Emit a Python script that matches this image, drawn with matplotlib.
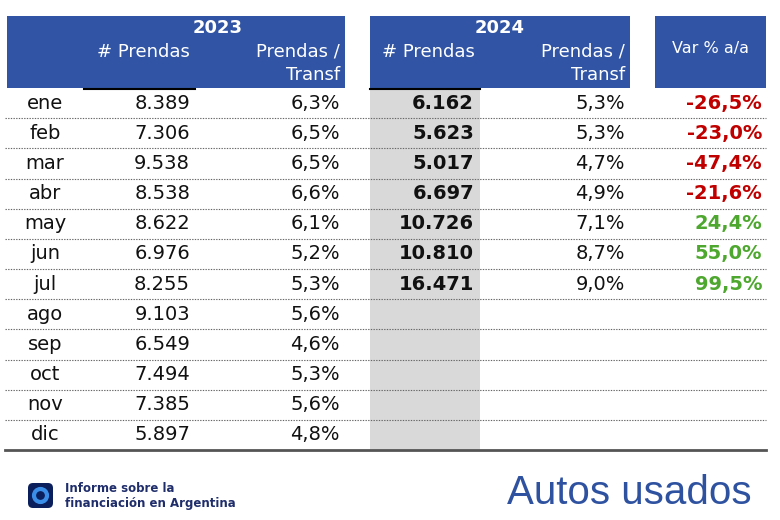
import matplotlib
matplotlib.use('Agg')
import matplotlib.pyplot as plt
from matplotlib.patches import Rectangle, FancyBboxPatch, Circle

# ============ Datos ============
meses = ['ene', 'feb', 'mar', 'abr', 'may', 'jun', 'jul',
         'ago', 'sep', 'oct', 'nov', 'dic']
prendas_2023 = [8389, 7306, 9538, 8538, 8622, 6976, 8255, 9103, 6549, 7494, 7385, 5897]
transf_2023 = [6.3, 6.5, 6.5, 6.6, 6.1, 5.2, 5.3, 5.6, 4.6, 5.3, 5.6, 4.8]
prendas_2024 = [6162, 5623, 5017, 6697, 10726, 10810, 16471]
transf_2024 = [5.3, 5.3, 4.7, 4.9, 7.1, 8.7, 9.0]
var_aa = [-26.5, -23.0, -47.4, -21.6, 24.4, 55.0, 99.5]

AZUL = '#3155A4'
ROJO = '#C00000'
VERDE = '#4EA72E'
GRIS = '#D9D9D9'


def miles(v):
    return f'{v:,}'.replace(',', '.')


def pct(v):
    return f'{v:.1f}%'.replace('.', ',')


fig = plt.figure(figsize=(7.8, 5.2), dpi=100)
ax = fig.add_axes([0, 0, 1, 1])
ax.set_xlim(0, 780)
ax.set_ylim(520, 0)
ax.axis('off')

# ============ Encabezados ============
top, bot = 16, 88
for x0, x1 in [(7, 345), (370, 630), (655, 766)]:
    ax.add_patch(Rectangle((x0, top), x1 - x0, bot - top, color=AZUL, lw=0))

hkw = dict(color='white', fontsize=13, family='DejaVu Sans')
ax.text(218, 28, '2023', ha='center', va='center', fontweight='bold', **hkw)
ax.text(143, 52, '# Prendas', ha='center', va='center', **hkw)
ax.text(340, 52, 'Prendas /', ha='right', va='center', **hkw)
ax.text(340, 75, 'Transf', ha='right', va='center', **hkw)
ax.text(500, 28, '2024', ha='center', va='center', fontweight='bold', **hkw)
ax.text(428, 52, '# Prendas', ha='center', va='center', **hkw)
ax.text(625, 52, 'Prendas /', ha='right', va='center', **hkw)
ax.text(625, 75, 'Transf', ha='right', va='center', **hkw)
ax.text(710, 48, 'Var % a/a', ha='center', va='center', color='white',
        fontsize=11.5)

# columna gris 2024
y0, y1 = 88, 450
ax.add_patch(Rectangle((370, y0), 110, y1 - y0, color=GRIS, lw=0, zorder=0))
ax.plot([84, 195], [88.5, 88.5], color='black', lw=1.5)
ax.plot([370, 480], [88.5, 88.5], color='black', lw=1.5)

# ============ Filas ============
n = len(meses)
h = (y1 - y0) / n
dkw = dict(fontsize=14, va='center', color='#111111')
for i, m in enumerate(meses):
    yc = y0 + h * (i + 0.5)
    ax.text(45, yc, m, ha='center', **dkw)
    ax.text(190, yc, miles(prendas_2023[i]), ha='right', **dkw)
    ax.text(340, yc, pct(transf_2023[i]), ha='right', **dkw)
    if i < len(prendas_2024):
        ax.text(474, yc, miles(prendas_2024[i]), ha='right',
                fontweight='bold', **dkw)
        ax.text(625, yc, pct(transf_2024[i]), ha='right', **dkw)
        v = var_aa[i]
        ax.text(762, yc, pct(v), ha='right', va='center', fontsize=14,
                fontweight='bold', color=ROJO if v < 0 else VERDE)
    if i < n - 1:
        yl = y0 + h * (i + 1)
        ax.plot([5, 766], [yl, yl], color='#666666', lw=0.8,
                ls=(0, (1.2, 1.2)))

ax.plot([5, 766], [y1, y1], color='#555555', lw=2)

# ============ Pie ============
ax.add_patch(FancyBboxPatch((28, 483), 25, 25, boxstyle='round,pad=0,rounding_size=5',
                            color='#0A1F5C', lw=0))
ax.add_patch(Circle((40.5, 495.5), 6.5, fill=False, ec='#3B8EE8', lw=3))
ax.text(65, 489, 'Informe sobre la', ha='left', va='center', fontsize=8.5,
        fontweight='bold', color='#1F2D6B')
ax.text(65, 503, 'financiación en Argentina', ha='left', va='center',
        fontsize=8.5, fontweight='bold', color='#1F2D6B')
ax.text(752, 493, 'Autos usados', ha='right', va='center', fontsize=29,
        color='#2F52A0', family='Liberation Sans')

fig.savefig('out.png', dpi=100)
